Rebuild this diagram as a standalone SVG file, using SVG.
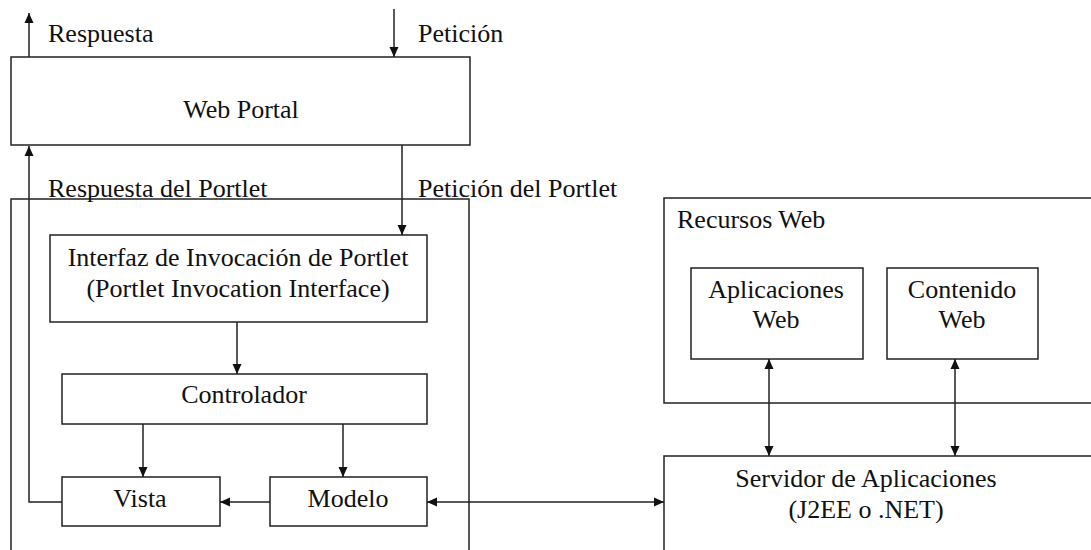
<svg xmlns="http://www.w3.org/2000/svg" width="1091" height="550" viewBox="0 0 1091 550">
  <defs>
    <marker id="arrow" viewBox="0 0 10 10" refX="10" refY="5" markerWidth="10" markerHeight="10" markerUnits="userSpaceOnUse" orient="auto-start-reverse">
      <path d="M0,0.5 L10,5 L0,9.5 Z" fill="#111"/>
    </marker>
  </defs>
  <style>
    .box { fill: #fff; stroke: #222; stroke-width: 1.5; }
    .lbl { font-family: 'Liberation Serif', serif; font-size: 26px; fill: #111; }
    .mid { text-anchor: middle; }
    .wire { fill: none; stroke: #222; stroke-width: 1.5; }
  </style>
  <rect width="1091" height="550" fill="#fff"/>

  <!-- containers -->
  <g id="portlet-container">
    <rect class="box" x="11" y="199" width="458" height="360"/>
  </g>
  <g id="recursos-web">
    <rect class="box" x="664" y="198" width="440" height="205"/>
    <text class="lbl" x="677" y="228">Recursos Web</text>
  </g>

  <!-- nodes -->
  <g id="web-portal">
    <rect class="box" x="11" y="57" width="459" height="88"/>
    <text class="lbl mid" x="241" y="118">Web Portal</text>
  </g>
  <g id="interfaz">
    <rect class="box" x="50" y="235" width="377" height="87"/>
    <text class="lbl mid" x="238" y="266">Interfaz de Invocación de Portlet</text>
    <text class="lbl mid" x="238" y="297">(Portlet Invocation Interface)</text>
  </g>
  <g id="controlador">
    <rect class="box" x="62" y="374" width="365" height="50"/>
    <text class="lbl mid" x="244" y="403">Controlador</text>
  </g>
  <g id="vista">
    <rect class="box" x="62" y="477" width="158" height="49"/>
    <text class="lbl mid" x="140" y="507">Vista</text>
  </g>
  <g id="modelo">
    <rect class="box" x="270" y="477" width="157" height="49"/>
    <text class="lbl mid" x="348" y="507">Modelo</text>
  </g>
  <g id="aplicaciones-web">
    <rect class="box" x="691" y="268" width="172" height="91"/>
    <text class="lbl mid" x="776" y="298">Aplicaciones</text>
    <text class="lbl mid" x="776" y="328">Web</text>
  </g>
  <g id="contenido-web">
    <rect class="box" x="887" y="268" width="151" height="91"/>
    <text class="lbl mid" x="962" y="298">Contenido</text>
    <text class="lbl mid" x="962" y="328">Web</text>
  </g>
  <g id="servidor">
    <rect class="box" x="664" y="456" width="440" height="110"/>
    <text class="lbl mid" x="866" y="487">Servidor de Aplicaciones</text>
    <text class="lbl mid" x="866" y="518">(J2EE o .NET)</text>
  </g>

  <!-- connectors -->
  <g id="connectors">
    <line class="wire" x1="29" y1="57" x2="29" y2="13" marker-end="url(#arrow)"/>
    <line class="wire" x1="394" y1="9" x2="394" y2="57" marker-end="url(#arrow)"/>
    <polyline class="wire" points="62,502 29,502 29,146" marker-end="url(#arrow)"/>
    <line class="wire" x1="402" y1="145" x2="402" y2="235" marker-end="url(#arrow)"/>
    <line class="wire" x1="237" y1="322" x2="237" y2="374" marker-end="url(#arrow)"/>
    <line class="wire" x1="143" y1="424" x2="143" y2="477" marker-end="url(#arrow)"/>
    <line class="wire" x1="343" y1="424" x2="343" y2="477" marker-end="url(#arrow)"/>
    <line class="wire" x1="270" y1="502" x2="220" y2="502" marker-end="url(#arrow)"/>
    <line class="wire" x1="427" y1="502" x2="664" y2="502" marker-start="url(#arrow)" marker-end="url(#arrow)"/>
    <line class="wire" x1="769" y1="359" x2="769" y2="456" marker-start="url(#arrow)" marker-end="url(#arrow)"/>
    <line class="wire" x1="955" y1="359" x2="955" y2="456" marker-start="url(#arrow)" marker-end="url(#arrow)"/>
  </g>

  <!-- flow labels -->
  <g id="labels">
    <text class="lbl" x="48" y="42">Respuesta</text>
    <text class="lbl" x="418" y="42">Petición</text>
    <text class="lbl" x="48" y="197">Respuesta del Portlet</text>
    <text class="lbl" x="418" y="197">Petición del Portlet</text>
  </g>
</svg>
